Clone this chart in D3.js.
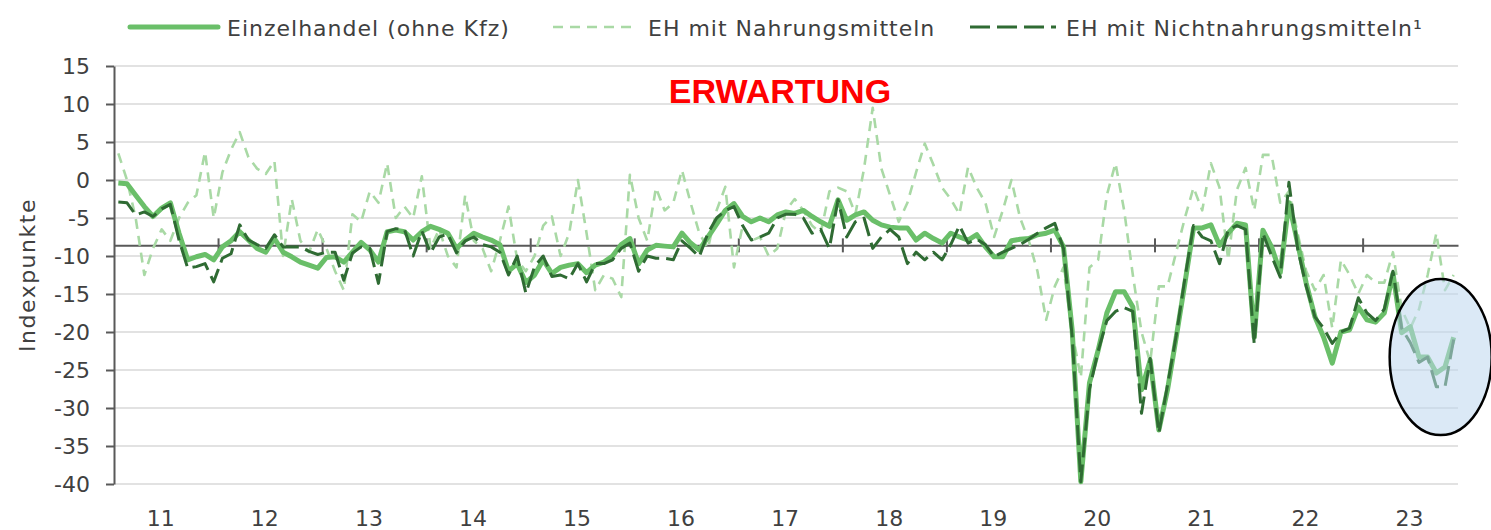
<!DOCTYPE html>
<html>
<head>
<meta charset="utf-8">
<script src="https://cdn.jsdelivr.net/npm/d3@7"></script>
<style>
  body { margin: 0; background: #fff; }
  svg { display: block; }
</style>
</head>
<body>
<svg id="chart"></svg>
<script>
// monthly values, Jan 2011 - Nov 2023
const yearLabels = ["11", "12", "13", "14", "15", "16", "17", "18", "19", "20", "21", "22", "23"];
const yTicks = [15, 10, 5, 0, -5, -10, -15, -20, -25, -30, -35, -40];
const average = -8.6;

const einzelhandel = [
  -0.4, -0.5, -2, -3.5, -4.8, -3.7, -3, -7, -10.5, -10.1, -9.8, -10.5,
  -8.8, -8, -6.8, -7.9, -9, -9.5, -7.7, -9.5, -10.1, -10.8, -11.2, -11.6,
  -10.2, -10.1, -10.8, -9.5, -8.2, -9.2, -10.8, -6.8, -6.6, -6.8, -7.9, -6.8,
  -6.1, -6.5, -7, -9, -7.9, -7, -7.5, -7.9, -8.5, -12, -11, -13.5,
  -12.5, -10.5, -12.3, -11.5, -11.2, -11, -12.2, -11.2, -10.8, -10, -8.5, -7.7,
  -11, -9.2, -8.6, -8.7, -8.8, -7, -8.3, -9.2, -7.5, -5.8, -4, -3.1,
  -4.8, -5.5, -5, -5.5, -4.6, -4.2, -4.4, -4, -4.8, -5.5, -6.1, -2.6,
  -5.3, -4.6, -4.2, -5.3, -5.9, -6.2, -6.3, -6.3, -7.9, -7, -7.7, -8.3,
  -7, -7.5, -7.9, -7.2, -8.8, -10.1, -10.1, -8, -7.8, -7.7, -7.2, -7,
  -6.6, -8.8, -19.7, -39.7, -26.7, -22.4, -17.5, -14.7, -14.7, -16.7, -27.6, -23.7,
  -32.9, -27.6, -20.7, -13.6, -6.3, -6.3, -5.9, -8.6, -7, -5.7, -5.9, -20.7,
  -6.6, -8.8, -12.2, -3, -8.3, -13.6, -18, -20.7, -24.1, -20, -19.7, -16.7,
  -18.4, -18.7, -17.5, -12.3, -20.1, -19.3, -23.3, -23.3, -25.4, -24.6, -20.7
];

const ehNahrung = [
  3.5, 0, -5, -12.5, -9, -6.5, -8, -5, -3, -2, 3.7, -5,
  1, 4, 6.3, 3, 1.5, 0.8, 2.5, -10, -2.5, -8, -9.5, -6.5,
  -9, -12, -14.5, -4.5, -5.5, -1.5, -3, 2.2, -5, -3.5, -5, 0.5,
  -9, -6.5, -10, -11.5, -2, -8, -9, -12, -8, -3.5, -10.5, -12,
  -10, -6, -4.8, -10, -7, 0, -7, -14.5, -12.5, -13, -15.4, 0.7,
  -5, -8, -1, -4, -3, 1.3, -3, -7, -9, -4, -0.9, -11.5,
  -6, -8, -7.5, -10, -9, -4, -2.5, -4, -6, -7, -1.5, -1,
  -1.5, -4.5, 1.5, 9.5, 1.5, -2, -5.5, -3, 1, 4.8, 2, -1,
  -2.5, -4.5, 1.7, -1, -3, -7.5, -4, 0, -5, -8, -12, -18.4,
  -14, -11.5, -20, -26, -11.5, -10.5, -2, 2.2, -4, -12.5, -20, -24,
  -14, -14, -9.5, -5, -1, -4, 2.2, -1, -10.5, -1.3, 1.6, -4,
  3.3, 3.3, -3, -1.5, -7, -12, -14.5, -12.5, -19.5, -10.5, -12.5, -15,
  -12.5, -13.5, -13.5, -9.5, -17, -19.5, -17, -12.5, -7, -14.5, -12.5
];

const ehNichtnahrung = [
  -2.9, -3, -4.6, -4.2, -4.8, -3.8, -3.2, -7.9, -11.6, -11.4, -11, -13.4,
  -10.3, -9.7, -5.9, -7.9, -8.5, -9, -7.2, -8.8, -8.8, -8.8, -9.4, -9.8,
  -9.5, -9.5, -13.2, -9.6, -8.8, -9, -13.6, -6.8, -6.4, -6.5, -10, -6.7,
  -9.6, -7.5, -7.1, -9.6, -8, -7.5, -8.5, -8.8, -9.5, -12.5, -10, -14.9,
  -11.4, -10, -12.7, -12.5, -13, -11, -13.4, -11, -11, -10.5, -9, -8.3,
  -12, -10, -10.3, -10.3, -10.5, -8, -9, -10.1, -7, -5, -4, -3.5,
  -6, -7.9, -7.5, -7, -5, -4.5, -4.5, -5, -7, -6.5, -9, -2.6,
  -7.5, -5.5, -5, -9, -7.5, -6.5, -7.5, -11, -9.5, -10.5, -9.5, -10.5,
  -8.5, -6, -8.3, -7.8, -8.5, -10.1, -9.5, -9, -8.5, -7.8, -7, -6.3,
  -5.7, -9, -20.5, -39.7, -27.5, -22.5, -18.5, -17.3, -16.8, -17.3, -30.7, -23.5,
  -33.3, -27, -20.5, -13, -6, -7.5, -8, -11, -6.5, -6, -6.5, -21.6,
  -7, -10, -12.8, -0.3, -9, -14, -18, -19.5, -21.5, -20, -19.5, -15.5,
  -17.5, -18.5, -17, -12, -19.5, -21.4, -24, -23.3, -27.2, -27.2, -21
];

const width = 1491, height = 530;
const n = einzelhandel.length;
const font = "'DejaVu Sans', sans-serif";
const textColor = "#404040";
const axisColor = "#595959";

const svg = d3.select("#chart").attr("width", width).attr("height", height);

const x = d3.scaleLinear().domain([0, n]).range([114, 1458]);
const y = d3.scaleLinear().domain([-40, 15]).range([484, 66]);

// Gridlines
svg.append("g")
  .selectAll("line")
  .data(yTicks)
  .join("line")
  .attr("x1", x(0))
  .attr("x2", x(n))
  .attr("y1", d => y(d))
  .attr("y2", d => y(d))
  .attr("stroke", "#d9d9d9")
  .attr("stroke-width", 1.5);

// Y axis
const yAxis = svg.append("g")
  .attr("transform", `translate(${x(0)},0)`)
  .call(d3.axisLeft(y).tickValues(yTicks).tickSize(8).tickSizeOuter(0).tickPadding(16).tickFormat(d => String(d)));
yAxis.select(".domain").attr("stroke", axisColor).attr("stroke-width", 2);
yAxis.selectAll(".tick line").attr("stroke", axisColor).attr("stroke-width", 2);
yAxis.selectAll(".tick text")
  .attr("font-family", font)
  .attr("font-size", 22)
  .attr("fill", textColor);

// X axis at the long-term average
const boundaries = d3.range(12, n, 12);
const xAxis = svg.append("g")
  .attr("transform", `translate(0,${y(average)})`)
  .call(d3.axisBottom(x).tickValues(boundaries).tickSizeOuter(0).tickFormat(""));
xAxis.select(".domain").attr("stroke", axisColor).attr("stroke-width", 2);
xAxis.selectAll(".tick line").attr("y1", -7).attr("y2", 7).attr("stroke", axisColor).attr("stroke-width", 2);

// Year labels
svg.append("g")
  .selectAll("text")
  .data(yearLabels)
  .join("text")
  .attr("x", (d, i) => x(i * 12 + 5.4))
  .attr("y", 526)
  .attr("text-anchor", "middle")
  .attr("font-family", font)
  .attr("font-size", 22)
  .attr("fill", textColor)
  .text(d => d);

// Y axis title
svg.append("text")
  .attr("transform", "translate(35,275) rotate(-90)")
  .attr("text-anchor", "middle")
  .attr("font-family", font)
  .attr("font-size", 22)
  .attr("letter-spacing", 1.5)
  .attr("fill", textColor)
  .text("Indexpunkte");

// Lines
const line = d3.line()
  .x((d, i) => x(i + 0.5))
  .y(d => y(d));

const series = [
  { name: "EH mit Nahrungsmitteln", values: ehNahrung, color: "#a9d9a5", width: 2.6, dash: "10,7" },
  { name: "Einzelhandel (ohne Kfz)", values: einzelhandel, color: "#6abf69", width: 5, dash: null },
  { name: "EH mit Nichtnahrungsmitteln¹", values: ehNichtnahrung, color: "#2f6b33", width: 3, dash: "20,7" }
];

svg.append("g")
  .selectAll("path")
  .data(series)
  .join("path")
  .attr("d", d => line(d.values))
  .attr("fill", "none")
  .attr("stroke", d => d.color)
  .attr("stroke-width", d => d.width)
  .attr("stroke-dasharray", d => d.dash)
  .attr("stroke-linejoin", "round");

// Highlight ellipse on the latest months
svg.append("ellipse")
  .attr("cx", x(153))
  .attr("cy", y(-23.3))
  .attr("rx", 51)
  .attr("ry", 78)
  .attr("fill", "#bdd7ee")
  .attr("fill-opacity", 0.55)
  .attr("stroke", "#000")
  .attr("stroke-width", 2.5);

// Title inside the plot
svg.append("text")
  .attr("x", 780)
  .attr("y", 103)
  .attr("text-anchor", "middle")
  .attr("font-family", "'Liberation Sans', Arial, sans-serif")
  .attr("font-weight", "bold")
  .attr("font-size", 34)
  .attr("fill", "#ff0000")
  .text("ERWARTUNG");

// Legend
const legendItems = [
  { s: series[1], x1: 130, x2: 218, tx: 227 },
  { s: series[0], x1: 553, x2: 633, tx: 648 },
  { s: series[2], x1: 970, x2: 1056, tx: 1066 }
];
const legend = svg.append("g");
legend.selectAll("line")
  .data(legendItems)
  .join("line")
  .attr("x1", d => d.x1)
  .attr("x2", d => d.x2)
  .attr("y1", 27)
  .attr("y2", 27)
  .attr("stroke", d => d.s.color)
  .attr("stroke-width", d => d.s.width)
  .attr("stroke-dasharray", d => d.s.dash)
  .attr("stroke-linecap", d => d.s.dash ? "butt" : "round");
legend.selectAll("text")
  .data(legendItems)
  .join("text")
  .attr("x", d => d.tx)
  .attr("y", 36)
  .attr("font-family", font)
  .attr("font-size", 22)
  .attr("letter-spacing", 1)
  .attr("fill", textColor)
  .text(d => d.s.name);
</script>
</body>
</html>
